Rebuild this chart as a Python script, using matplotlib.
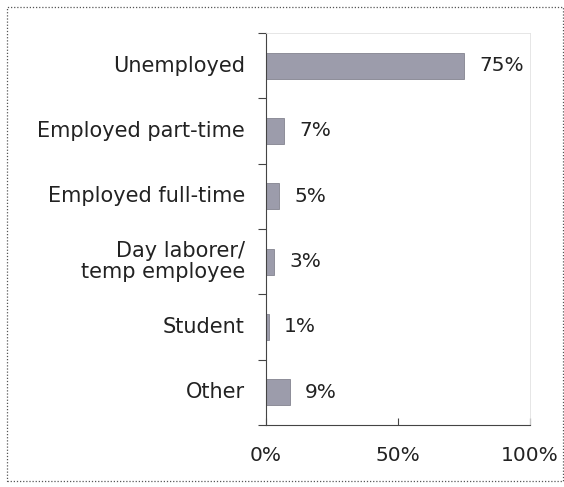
import matplotlib
matplotlib.use("Agg")
import matplotlib.pyplot as plt
from matplotlib.patches import Rectangle

categories = ["Unemployed", "Employed part-time", "Employed full-time",
              "Day laborer/\ntemp employee", "Student", "Other"]
values = [75, 7, 5, 3, 1, 9]
xticks = [0, 50, 100]
xtick_labels = ["0%", "50%", "100%"]

bar_color = "#9c9cab"

fig = plt.figure(figsize=(5.64, 4.87), dpi=100)
ax = fig.add_axes([0.4716, 0.1273, 0.468, 0.805])

pos = list(range(len(categories)))
ax.barh(pos, values, height=0.4, color=bar_color, edgecolor="#84848f", linewidth=0.6)
for p, v in zip(pos, values):
    ax.text(v + 5.8, p, f"{v}%", va="center", ha="left", fontsize=14.5, color="#222222")

ax.set_xlim(0, 100)
ax.set_ylim(len(categories) - 0.5, -0.5)

# category names as text, ticks sit between categories
for p, c in zip(pos, categories):
    ax.text(-8, p, c, va="center", ha="right", fontsize=15, color="#222222",
            linespacing=1.1, transform=ax.transData, clip_on=False)
ax.set_yticks([p - 0.5 for p in range(len(categories) + 1)])
ax.set_yticklabels([])
ax.tick_params(axis="y", direction="out", length=6, width=0.8, color="#444444")

ax.set_xticks(xticks)
ax.set_xticklabels(xtick_labels, fontsize=14.5, color="#222222")
ax.tick_params(axis="x", direction="in", length=5, width=0.8, color="#444444", pad=15)

ax.spines["left"].set_color("#444444")
ax.spines["bottom"].set_color("#444444")
ax.spines["top"].set_color("#e2e2e2")
ax.spines["right"].set_color("#e2e2e2")
ax.spines["top"].set_linewidth(0.6)
ax.spines["right"].set_linewidth(0.6)

# dotted frame round the chart
fig.patches.append(Rectangle((0.013, 0.012), 0.985, 0.974, transform=fig.transFigure,
                             fill=False, linestyle=(0, (1, 1.5)), linewidth=0.9,
                             edgecolor="#555555"))

fig.savefig("out.png", dpi=100)
